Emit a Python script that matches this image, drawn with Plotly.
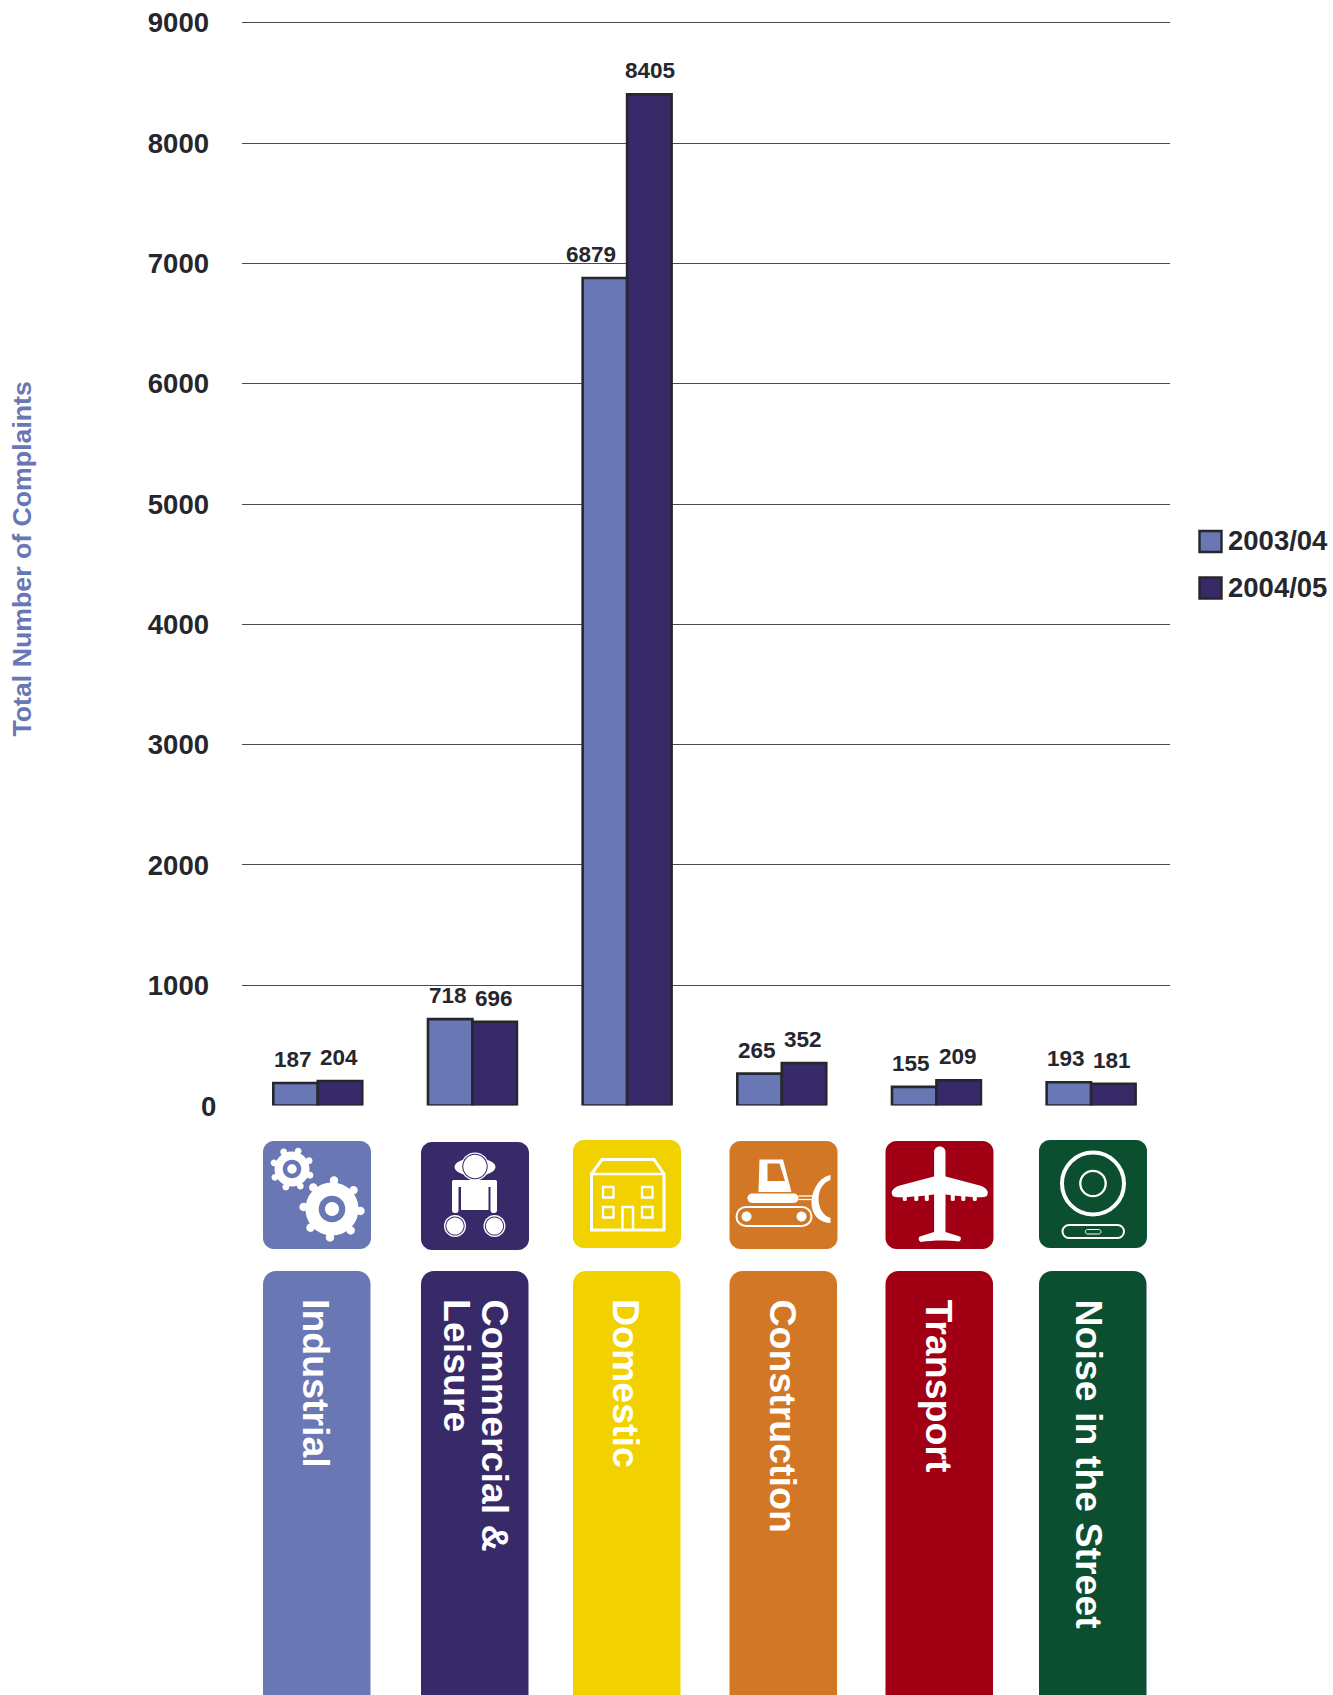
import math
import plotly.graph_objects as go

W, H = 1333, 1695

categories = ["Industrial", "Commercial & Leisure", "Domestic", "Construction", "Transport", "Noise in the Street"]
panel_lines = [["Industrial"], ["Commercial &amp;", "Leisure"], ["Domestic"], ["Construction"], ["Transport"], ["Noise in the Street"]]
panel_line_offsets = [[0], [20, -17], [0], [0], [0], [-4]]
values_2003 = [187, 718, 6879, 265, 155, 193]
values_2004 = [204, 696, 8405, 352, 209, 181]
years = ["2003/04", "2004/05"]
tick_values = [1000, 2000, 3000, 4000, 5000, 6000, 7000, 8000, 9000]
panel_colors = ["#6977b5", "#382a69", "#f2d100", "#d27726", "#a10014", "#0c4f30"]
panel_lefts = [263, 421, 573, 729.5, 885.5, 1039]
icon_tops = [1141, 1142, 1140, 1141, 1141, 1140]
label_shift_2003 = [-3, -2, -14, -3, -3, -3]
label_shift_2004 = [-1, -1, 1, -1, -1, -1]

YEAR_COLORS = ["#6977b5", "#382a69"]
EDGE = "#26262e"
TEXT = "#26262e"
FONT = "Liberation Sans"
BAR_GAP = 0.425

# Vertical scale: pixel row of zero and pixels per complaint
AXIS_BASE = 1105.5
AXIS_SCALE = 0.1203
AXIS_MAX = 9050


def X(v):
    return v / W


def Y(v):
    return 1 - v / H


def pt(x, y):
    return f"{X(x):.6f},{Y(y):.6f}"


def poly(points):
    return "M" + "L".join(pt(x, y) for x, y in points) + "Z"


def circle(cx, cy, r, ry=None):
    ry = r if ry is None else ry
    k = 0.5523
    return (
        f"M{pt(cx + r, cy)}"
        f"C{pt(cx + r, cy + k * ry)} {pt(cx + k * r, cy + ry)} {pt(cx, cy + ry)}"
        f"C{pt(cx - k * r, cy + ry)} {pt(cx - r, cy + k * ry)} {pt(cx - r, cy)}"
        f"C{pt(cx - r, cy - k * ry)} {pt(cx - k * r, cy - ry)} {pt(cx, cy - ry)}"
        f"C{pt(cx + k * r, cy - ry)} {pt(cx + r, cy - k * ry)} {pt(cx + r, cy)}Z"
    )


def round_rect(x0, y0, x1, y1, r):
    k = 0.4477 * r
    return (
        f"M{pt(x0 + r, y0)}L{pt(x1 - r, y0)}"
        f"C{pt(x1 - k, y0)} {pt(x1, y0 + k)} {pt(x1, y0 + r)}"
        f"L{pt(x1, y1 - r)}"
        f"C{pt(x1, y1 - k)} {pt(x1 - k, y1)} {pt(x1 - r, y1)}"
        f"L{pt(x0 + r, y1)}"
        f"C{pt(x0 + k, y1)} {pt(x0, y1 - k)} {pt(x0, y1 - r)}"
        f"L{pt(x0, y0 + r)}"
        f"C{pt(x0, y0 + k)} {pt(x0 + k, y0)} {pt(x0 + r, y0)}Z"
    )


shapes = []


def solid(path, color="white"):
    shapes.append(dict(type="path", path=path, fillcolor=color, line=dict(width=0), layer="above"))


def outline(path, width, color="white"):
    shapes.append(dict(type="path", path=path, fillcolor="rgba(0,0,0,0)",
                       line=dict(color=color, width=width), layer="above"))


def gear(cx, cy, body, tooth_at, tooth_r, ring, hole, teeth, start, color):
    solid(circle(cx, cy, body))
    for i in range(teeth):
        a = math.radians(start + i * 360 / teeth)
        solid(circle(cx + tooth_at * math.cos(a), cy + tooth_at * math.sin(a), tooth_r))
    solid(circle(cx, cy, ring), color)
    solid(circle(cx, cy, hole))


def icon_gears(x, y, color):
    gear(x + 29, y + 28, 17.5, 19, 3.4, 9.3, 4.7, 8, -71, color)
    gear(x + 69, y + 68, 26.5, 28.5, 4.2, 13.3, 7, 8, -86, color)


def icon_person(x, y, color):
    solid(circle(x + 54, y + 25, 20.5, 9))
    solid(circle(x + 54, y + 24.5, 14))
    solid(circle(x + 54, y + 24.5, 12.7), color)
    solid(circle(x + 54, y + 24.5, 11.7))
    solid(round_rect(x + 31, y + 38, x + 76, y + 45, 2))
    solid(round_rect(x + 31, y + 38, x + 37.5, y + 71, 2.5))
    solid(round_rect(x + 69.5, y + 38, x + 76, y + 71, 2.5))
    solid(poly([(x + 40, y + 42), (x + 67.5, y + 42), (x + 67.5, y + 68), (x + 40, y + 68)]))
    for wx in (34, 73.5):
        solid(circle(x + wx, y + 84, 11))
        solid(circle(x + wx, y + 84, 9.6), color)
        solid(circle(x + wx, y + 84, 8.6))


def icon_house(x, y, _color):
    outline(poly([(x + 18.5, y + 34), (x + 29, y + 19.5), (x + 81, y + 19.5), (x + 91, y + 34),
                  (x + 91, y + 90), (x + 18.5, y + 90)]), 3)
    outline("M" + pt(x + 18.5, y + 34) + "L" + pt(x + 91, y + 34), 2.5)
    for wx, wy in ((30, 47), (69, 47), (30, 67), (69, 67)):
        outline(poly([(x + wx, y + wy), (x + wx + 10.5, y + wy), (x + wx + 10.5, y + wy + 10.5),
                      (x + wx, y + wy + 10.5)]), 2.3)
    outline("M" + pt(x + 49.5, y + 90) + "L" + pt(x + 49.5, y + 67) + "L" + pt(x + 60, y + 67)
            + "L" + pt(x + 60, y + 90), 2.5)


def icon_bulldozer(x, y, _color):
    cab = poly([(x + 30, y + 18.5), (x + 53.5, y + 18.5), (x + 62, y + 51), (x + 29, y + 51)])
    window = poly([(x + 38, y + 22.5), (x + 50, y + 22.5), (x + 55.5, y + 40), (x + 38, y + 40)])
    solid(cab + window)
    solid(round_rect(x + 18, y + 52.5, x + 69, y + 62, 4.7))
    for ay in (55, 58.5):
        outline("M" + pt(x + 69, y + ay) + "L" + pt(x + 86, y + ay), 1.3)
    outline(round_rect(x + 7, y + 66, x + 82, y + 85, 9.5), 2)
    solid(circle(x + 17, y + 75.5, 5))
    solid(circle(x + 72, y + 75.5, 5))
    solid(
        f"M{pt(x + 101, y + 34)}"
        f"C{pt(x + 80, y + 38)} {pt(x + 72, y + 80)} {pt(x + 101, y + 82)}"
        f"L{pt(x + 101, y + 77)}"
        f"C{pt(x + 85, y + 72)} {pt(x + 85, y + 44)} {pt(x + 101, y + 39)}Z"
    )


def icon_plane(x, y, _color):
    cx = x + 54.3
    solid(round_rect(cx - 5.7, y + 5.5, cx + 5.7, y + 96, 5.5))
    for side in (-1, 1):
        solid(
            f"M{pt(cx, y + 35)}L{pt(cx + side * 4, y + 35)}L{pt(cx + side * 38, y + 44)}"
            f"C{pt(cx + side * 46, y + 46)} {pt(cx + side * 50, y + 50)} {pt(cx + side * 47, y + 55)}"
            f"C{pt(cx + side * 44, y + 58)} {pt(cx + side * 20, y + 55)} {pt(cx, y + 53)}Z"
        )
        for ex in (13, 23.5, 35):
            solid(round_rect(cx + side * ex - 2, y + 53, cx + side * ex + 2, y + 60, 1.2))
    solid(
        f"M{pt(cx - 5.7, y + 91)}L{pt(cx + 5.7, y + 91)}L{pt(cx + 20, y + 95.5)}"
        f"C{pt(cx + 22, y + 97)} {pt(cx + 21, y + 100)} {pt(cx + 19, y + 100.5)}"
        f"C{pt(cx + 8, y + 99)} {pt(cx - 8, y + 99)} {pt(cx - 19, y + 101)}"
        f"C{pt(cx - 21, y + 100)} {pt(cx - 22, y + 97)} {pt(cx - 20, y + 95.5)}Z"
    )


def icon_speaker(x, y, _color):
    cx = x + 54
    outline(circle(cx, y + 43.5, 31), 4)
    outline(circle(cx, y + 43.5, 12.7), 2.3)
    outline(round_rect(cx - 30.5, y + 85, cx + 31, y + 98, 6.5), 2)
    outline(round_rect(cx - 7.7, y + 89.5, cx + 8, y + 94, 2.2), 1)


ICONS = [icon_gears, icon_person, icon_house, icon_bulldozer, icon_plane, icon_speaker]
ICON_SIZE = 108

fig = go.Figure()
for name, vals, colour in zip(years, (values_2003, values_2004), YEAR_COLORS):
    fig.add_trace(go.Bar(x=categories, y=vals, name=name, marker=dict(color=colour, line=dict(color=EDGE, width=2.6))))

annotations = []

# Value labels sit a fixed distance above their bars
half_bar = (1 - BAR_GAP) / 4
for i in range(len(categories)):
    for vals, sign, shifts in ((values_2003, -1, label_shift_2003), (values_2004, 1, label_shift_2004)):
        annotations.append(dict(
            x=i + sign * half_bar, y=vals[i], xref="x", yref="y", text=str(vals[i]),
            showarrow=False, yanchor="bottom", xanchor="center", yshift=9, xshift=shifts[i],
            font=dict(family=FONT, size=22.5, color=TEXT, weight="bold"),
        ))

annotations.append(dict(
    x=X(218), y=0, xref="paper", yref="y", text="0", showarrow=False, xanchor="right", yanchor="middle", yshift=-1,
    font=dict(family=FONT, size=27.5, color=TEXT, weight="bold"),
))
annotations.append(dict(
    x=X(21), y=Y(559.5), xref="paper", yref="paper", text="Total Number of Complaints", textangle=-90,
    showarrow=False, xanchor="center", yanchor="middle",
    font=dict(family=FONT, size=26.7, color="#6977b5", weight="bold"),
))

# Colour-coded icon tiles and the labelled panels running off the page foot
for i, colour in enumerate(panel_colors):
    left = panel_lefts[i]
    top = icon_tops[i]
    solid(round_rect(left, top, left + ICON_SIZE, top + ICON_SIZE, 11), colour)
    ICONS[i](left, top, colour)
    solid(round_rect(left, 1271, left + 107.5, H + 30, 13), colour)
    for line, offset in zip(panel_lines[i], panel_line_offsets[i]):
        annotations.append(dict(
            x=X(left + 53.5 + offset), y=Y(1297), xref="paper", yref="paper", text=line, textangle=90,
            showarrow=False, xanchor="center", yanchor="top", align="left",
            font=dict(family=FONT, size=37.5, color="white", weight="bold"),
        ))

# Year key on the right-hand side
for name, colour, top in zip(years, YEAR_COLORS, (531, 577.5)):
    shapes.append(dict(type="rect", xref="paper", yref="paper", x0=X(1199.5), x1=X(1221.5), y0=Y(top + 21), y1=Y(top),
                       fillcolor=colour, line=dict(color=EDGE, width=2.4)))
    annotations.append(dict(
        x=X(1226), y=Y(top + 9.5), xref="paper", yref="paper", text=name, showarrow=False,
        xanchor="left", yanchor="middle", font=dict(family=FONT, size=27.5, color=TEXT, weight="bold"),
    ))

for s in shapes:
    s.setdefault("xref", "paper")
    s.setdefault("yref", "paper")

fig.update_layout(
    width=W, height=H, margin=dict(l=0, r=0, t=0, b=0, autoexpand=False), paper_bgcolor="white", plot_bgcolor="white",
    barmode="group", bargap=BAR_GAP, bargroupgap=0, showlegend=False,
    shapes=shapes, annotations=annotations,
    xaxis=dict(domain=[X(242), X(1170)], range=[-0.49, 5.51], showticklabels=False, showgrid=False,
               zeroline=False, showline=False, ticks="", automargin=False),
    yaxis=dict(domain=[Y(AXIS_BASE), Y(AXIS_BASE - AXIS_MAX * AXIS_SCALE)], range=[0, AXIS_MAX], tickvals=tick_values,
               showgrid=True, automargin=False,
               gridcolor="#4a4a4a", gridwidth=1, zeroline=False, showline=False, ticks="",
               ticklabelstandoff=32, tickfont=dict(family=FONT, size=27.5, color=TEXT, weight="bold")),
)

fig.write_html("out.html")
